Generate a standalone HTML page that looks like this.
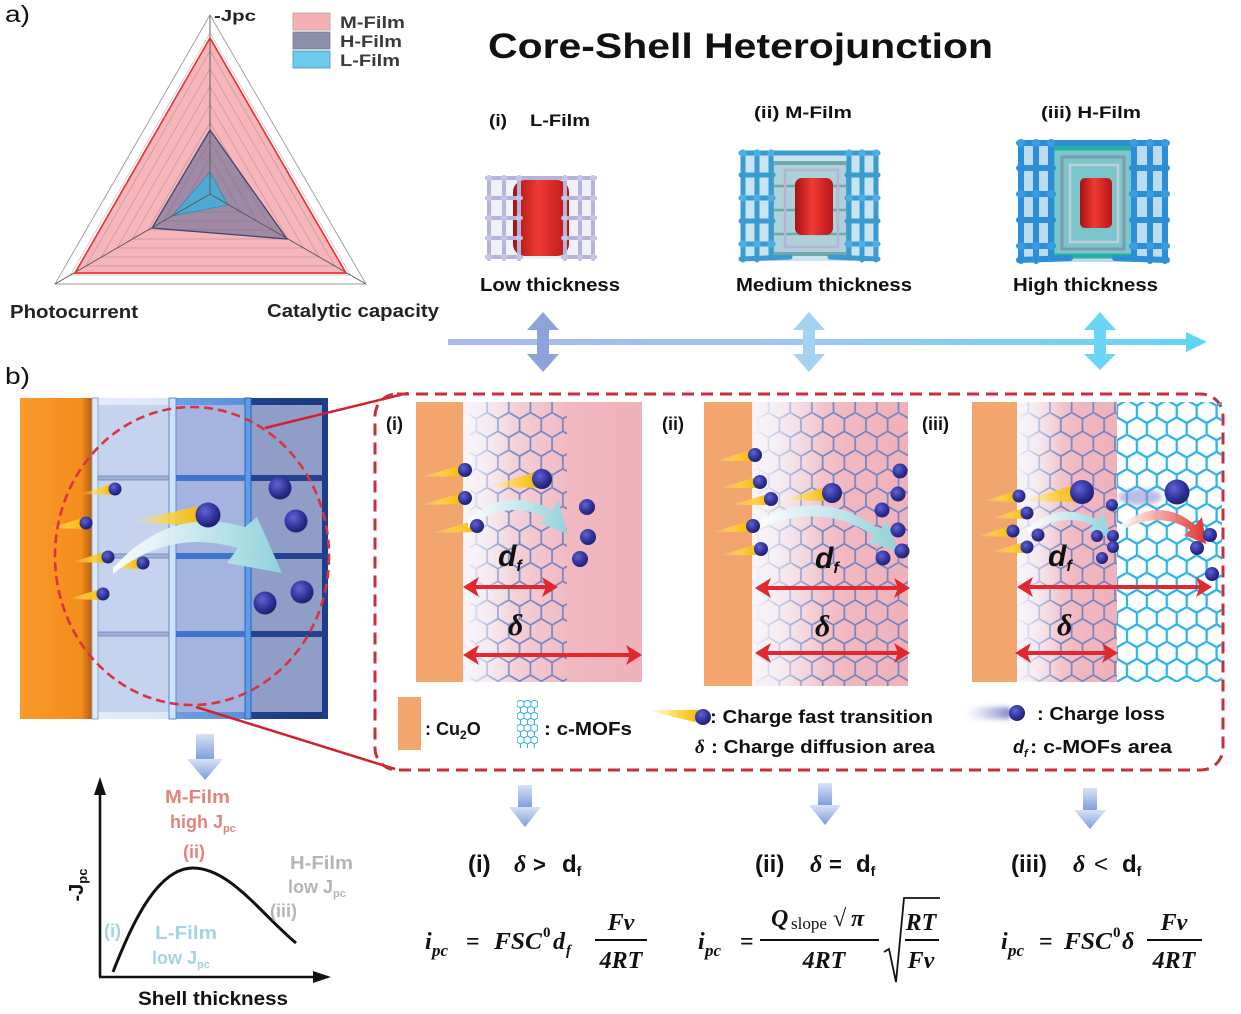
<!DOCTYPE html>
<html><head><meta charset="utf-8">
<style>
html,body{margin:0;padding:0;background:#fff;}
svg{display:block;}
.s{font-family:"Liberation Sans",sans-serif;}
.b{font-weight:bold;}
.m{font-family:"Liberation Serif",serif;font-weight:bold;font-style:italic;}
</style></head><body>
<svg width="1241" height="1014" viewBox="0 0 1241 1014" xmlns="http://www.w3.org/2000/svg">
<defs>
  <pattern id="hexB" patternUnits="userSpaceOnUse" width="21.65" height="37.5">
    <path d="M10.825,0 L21.65,6.25 L21.65,18.75 L10.825,25 L0,18.75 L0,6.25 Z M10.825,25 L10.825,37.5" fill="none" stroke="#5d7cc4" stroke-width="1.7" stroke-opacity="0.85"/>
  </pattern>
  <pattern id="hexC" patternUnits="userSpaceOnUse" width="19.92" height="34.5" x="1117" y="400">
    <path d="M9.96,0 L19.92,5.75 L19.92,17.25 L9.96,23 L0,17.25 L0,5.75 Z M9.96,23 L9.96,34.5" fill="none" stroke="#2fb3ec" stroke-width="2.3"/>
  </pattern>
  <pattern id="hexS" patternUnits="userSpaceOnUse" width="6.93" height="12" x="517" y="700">
    <path d="M3.46,0 L6.93,2 L6.93,6 L3.46,8 L0,6 L0,2 Z M3.46,8 L3.46,12" fill="none" stroke="#2aa9e6" stroke-width="1"/>
  </pattern>
  <linearGradient id="pinkG" x1="0" x2="1" y1="0" y2="0">
    <stop offset="0" stop-color="#f6f2f8"/><stop offset="0.3" stop-color="#f3cfd7"/><stop offset="0.6" stop-color="#f1b8c1"/><stop offset="1" stop-color="#efb1ba"/>
  </linearGradient>
  <linearGradient id="fogG" x1="0" x2="1" y1="0" y2="0">
    <stop offset="0" stop-color="#f7f4fa" stop-opacity="1"/><stop offset="0.45" stop-color="#f7f4fa" stop-opacity="0"/>
  </linearGradient>
  <radialGradient id="chg" cx="0.38" cy="0.35" r="0.7">
    <stop offset="0" stop-color="#6064d4"/><stop offset="0.6" stop-color="#30339a"/><stop offset="1" stop-color="#1c1d6a"/>
  </radialGradient>
  <linearGradient id="comet" x1="0" x2="1" y1="0" y2="0">
    <stop offset="0" stop-color="#ffe98a" stop-opacity="0"/><stop offset="0.5" stop-color="#ffd43a" stop-opacity="0.85"/><stop offset="1" stop-color="#f2b300"/>
  </linearGradient>
  <linearGradient id="cyanArr" x1="0" x2="1" y1="0" y2="0">
    <stop offset="0" stop-color="#ffffff" stop-opacity="0.95"/><stop offset="1" stop-color="#92d2db"/>
  </linearGradient>
  <linearGradient id="redArr" x1="0" x2="1" y1="0" y2="0">
    <stop offset="0" stop-color="#ffffff" stop-opacity="0.9"/><stop offset="1" stop-color="#e3302a"/>
  </linearGradient>
  <linearGradient id="cyl" x1="0" x2="1" y1="0" y2="0">
    <stop offset="0" stop-color="#a51212"/><stop offset="0.45" stop-color="#ef3a36"/><stop offset="1" stop-color="#b81616"/>
  </linearGradient>
  <linearGradient id="hArr" x1="0" x2="1" y1="0" y2="0">
    <stop offset="0" stop-color="#aab8ea"/><stop offset="0.5" stop-color="#9cc8ee"/><stop offset="1" stop-color="#62d4f6"/>
  </linearGradient>
  <linearGradient id="orangeG" x1="0" x2="1" y1="0" y2="0">
    <stop offset="0" stop-color="#f99a2c"/><stop offset="0.85" stop-color="#f48d1c"/><stop offset="1" stop-color="#b35e10"/>
  </linearGradient>
  <linearGradient id="barG" x1="0" x2="1" y1="0" y2="0">
    <stop offset="0" stop-color="#e4ecfa"/><stop offset="0.34" stop-color="#dbe6f8"/><stop offset="0.345" stop-color="#6e9fe6"/><stop offset="0.66" stop-color="#5a8fdc"/><stop offset="0.665" stop-color="#21418f"/><stop offset="1" stop-color="#1a377f"/>
  </linearGradient>
  <linearGradient id="downG" x1="0" x2="0" y1="0" y2="1">
    <stop offset="0" stop-color="#d7e2f6"/><stop offset="1" stop-color="#7d9cdc"/>
  </linearGradient>
  <linearGradient id="lossG" x1="0" x2="1" y1="0" y2="0">
    <stop offset="0" stop-color="#9ea3dc" stop-opacity="0"/><stop offset="1" stop-color="#6c70c4" stop-opacity="0.9"/>
  </linearGradient>
  <filter id="blur" x="-30%" y="-60%" width="160%" height="220%"><feGaussianBlur stdDeviation="2.5"/></filter>
  <clipPath id="c1"><rect x="463" y="402" width="179" height="280"/></clipPath>
  <clipPath id="c2"><rect x="752" y="402" width="156" height="284"/></clipPath>
  <clipPath id="c3"><rect x="1017" y="402" width="205" height="280"/></clipPath>
</defs>

<!-- ============ PANEL A ============ -->
<text x="5" y="22" class="s" font-size="23" fill="#111" textLength="25" lengthAdjust="spacingAndGlyphs">a)</text>

<polygon points="210,15 55,284 366,284" fill="none" stroke="#9a9a9a" stroke-width="0.9"/>
<polygon points="210,38 75,273 346,273" fill="#f4a0a5" fill-opacity="0.78"/>
<g fill="none" stroke="#8a6f78" stroke-width="0.7" stroke-opacity="0.45">
  <polygon points="210,32.9 70.5,275 350.4,275"/>
  <polygon points="210,50.8 86,266 334.8,266"/>
  <polygon points="210,68.7 101.5,257 319.2,257"/>
  <polygon points="210,86.6 117,248 303.6,248"/>
  <polygon points="210,104.5 132.5,239 288,239"/>
  <polygon points="210,122.4 148,230 272.4,230"/>
  <polygon points="210,140.3 163.5,221 256.8,221"/>
  <polygon points="210,158.2 179,212 241.2,212"/>
  <polygon points="210,176.1 194.5,203 225.6,203"/>
</g>
<polygon points="210,130 152,228 287,239" fill="#5a6596" fill-opacity="0.55" stroke="#3b4676" stroke-width="1.3"/>
<polygon points="210,172 172,216 228,205" fill="#3fb0dc" fill-opacity="0.85" stroke="#3a86ae" stroke-width="0.8"/>
<g stroke="#555" stroke-width="0.9">
  <line x1="210" y1="194" x2="210" y2="15"/>
  <line x1="210" y1="194" x2="55" y2="284"/>
  <line x1="210" y1="194" x2="366" y2="284"/>
</g>
<polygon points="210,38 75,273 346,273" fill="none" stroke="#e8363c" stroke-width="1.7"/>

<text x="214" y="21" class="s b" font-size="16" fill="#222" textLength="42" lengthAdjust="spacingAndGlyphs">-Jpc</text>
<rect x="293" y="13" width="37" height="17" fill="#f6afb2" stroke="#b0a0a0" stroke-width="0.8"/>
<rect x="293" y="32" width="37" height="17" fill="#8b8fab" stroke="#7a7a90" stroke-width="0.8"/>
<rect x="293" y="51" width="37" height="17" fill="#6ccbea" stroke="#4a90b0" stroke-width="0.8"/>
<text x="340" y="28" class="s b" font-size="17" fill="#3a3a3a" textLength="65" lengthAdjust="spacingAndGlyphs">M-Film</text>
<text x="340" y="47" class="s b" font-size="17" fill="#3a3a3a" textLength="62" lengthAdjust="spacingAndGlyphs">H-Film</text>
<text x="340" y="66" class="s b" font-size="17" fill="#3a3a3a" textLength="60" lengthAdjust="spacingAndGlyphs">L-Film</text>
<text x="10" y="318" class="s b" font-size="18" fill="#222" textLength="128" lengthAdjust="spacingAndGlyphs">Photocurrent</text>
<text x="267" y="317" class="s b" font-size="18" fill="#222" textLength="172" lengthAdjust="spacingAndGlyphs">Catalytic capacity</text>

<!-- ============ TOP RIGHT ============ -->
<text x="488" y="58" class="s b" font-size="35" fill="#111" textLength="505" lengthAdjust="spacingAndGlyphs">Core-Shell Heterojunction</text>

<text x="489" y="126" class="s b" font-size="17" fill="#111" textLength="18" lengthAdjust="spacingAndGlyphs">(i)</text>
<text x="530" y="126" class="s b" font-size="17" fill="#111" textLength="60" lengthAdjust="spacingAndGlyphs">L-Film</text>
<text x="754" y="118" class="s b" font-size="17" fill="#111" textLength="98" lengthAdjust="spacingAndGlyphs">(ii) M-Film</text>
<text x="1041" y="118" class="s b" font-size="17" fill="#111" textLength="100" lengthAdjust="spacingAndGlyphs">(iii) H-Film</text>

<!-- cube i -->
<g>
  <rect x="487" y="176" width="106" height="83" fill="#b3b5dc" fill-opacity="0.2"/>
  <rect x="513" y="180" width="56" height="76" rx="12" fill="url(#cyl)"/>
  <g stroke="#b2b4dc" stroke-width="4" stroke-linecap="round">
    <line x1="489" y1="177" x2="489" y2="259"/><line x1="504" y1="177" x2="504" y2="259"/><line x1="519" y1="177" x2="519" y2="259"/>
    <line x1="565" y1="177" x2="565" y2="259"/><line x1="580" y1="177" x2="580" y2="259"/><line x1="593" y1="177" x2="593" y2="259"/>
    <line x1="487" y1="178" x2="595" y2="178"/>
    <line x1="487" y1="198" x2="521" y2="198"/><line x1="563" y1="198" x2="595" y2="198"/>
    <line x1="487" y1="218" x2="521" y2="218"/><line x1="563" y1="218" x2="595" y2="218"/>
    <line x1="487" y1="238" x2="521" y2="238"/><line x1="563" y1="238" x2="595" y2="238"/>
    <line x1="487" y1="257" x2="521" y2="257"/><line x1="563" y1="257" x2="595" y2="257"/>
  </g>
  <g fill="#c4c5e8">
    <circle cx="489" cy="178" r="3"/><circle cx="504" cy="178" r="3"/><circle cx="519" cy="178" r="3"/><circle cx="565" cy="178" r="3"/><circle cx="580" cy="178" r="3"/><circle cx="593" cy="178" r="3"/>
    <circle cx="489" cy="198" r="3"/><circle cx="504" cy="198" r="3"/><circle cx="519" cy="198" r="3"/><circle cx="565" cy="198" r="3"/><circle cx="580" cy="198" r="3"/><circle cx="593" cy="198" r="3"/>
    <circle cx="489" cy="218" r="3"/><circle cx="504" cy="218" r="3"/><circle cx="519" cy="218" r="3"/><circle cx="565" cy="218" r="3"/><circle cx="580" cy="218" r="3"/><circle cx="593" cy="218" r="3"/>
    <circle cx="489" cy="238" r="3"/><circle cx="504" cy="238" r="3"/><circle cx="519" cy="238" r="3"/><circle cx="565" cy="238" r="3"/><circle cx="580" cy="238" r="3"/><circle cx="593" cy="238" r="3"/>
    <circle cx="489" cy="257" r="3"/><circle cx="504" cy="257" r="3"/><circle cx="519" cy="257" r="3"/><circle cx="565" cy="257" r="3"/><circle cx="580" cy="257" r="3"/><circle cx="593" cy="257" r="3"/>
  </g>
</g>
<!-- cube ii -->
<g>
  <rect x="741" y="151" width="136" height="110" fill="#3b9fd2" fill-opacity="0.28"/>
  <rect x="772" y="163" width="76" height="91" fill="#8fb9bb" fill-opacity="0.45" stroke="#6fa8aa" stroke-width="4"/>
  <g stroke="#6fa8aa" stroke-width="2.5"><line x1="772" y1="186" x2="848" y2="186"/><line x1="772" y1="210" x2="848" y2="210"/><line x1="772" y1="234" x2="848" y2="234"/></g>
  <rect x="785" y="170" width="53" height="77" fill="none" stroke="#b3b3d6" stroke-width="2.5"/>
  <rect x="795" y="178" width="38" height="57" rx="7" fill="url(#cyl)"/>
  <g stroke="#3a9bd0" stroke-width="5" stroke-linecap="round">
    <line x1="743" y1="152" x2="743" y2="260"/><line x1="757" y1="152" x2="757" y2="260"/><line x1="771" y1="152" x2="771" y2="258"/>
    <line x1="849" y1="152" x2="849" y2="258"/><line x1="862" y1="152" x2="862" y2="260"/><line x1="876" y1="152" x2="876" y2="260"/>
    <line x1="741" y1="153" x2="878" y2="153"/>
    <line x1="741" y1="175" x2="773" y2="175"/><line x1="847" y1="175" x2="878" y2="175"/>
    <line x1="741" y1="198" x2="773" y2="198"/><line x1="847" y1="198" x2="878" y2="198"/>
    <line x1="741" y1="221" x2="773" y2="221"/><line x1="847" y1="221" x2="878" y2="221"/>
    <line x1="741" y1="244" x2="773" y2="244"/><line x1="847" y1="244" x2="878" y2="244"/>
    <line x1="741" y1="259" x2="790" y2="257"/><line x1="830" y1="257" x2="878" y2="259"/>
  </g>
  <g fill="#4db0e2">
    <circle cx="743" cy="153" r="3.6"/><circle cx="757" cy="153" r="3.6"/><circle cx="771" cy="153" r="3.6"/><circle cx="849" cy="153" r="3.6"/><circle cx="862" cy="153" r="3.6"/><circle cx="876" cy="153" r="3.6"/>
    <circle cx="743" cy="198" r="3.6"/><circle cx="757" cy="198" r="3.6"/><circle cx="771" cy="198" r="3.6"/><circle cx="849" cy="198" r="3.6"/><circle cx="862" cy="198" r="3.6"/><circle cx="876" cy="198" r="3.6"/>
    <circle cx="743" cy="244" r="3.6"/><circle cx="757" cy="244" r="3.6"/><circle cx="771" cy="244" r="3.6"/><circle cx="849" cy="244" r="3.6"/><circle cx="862" cy="244" r="3.6"/><circle cx="876" cy="244" r="3.6"/>
  </g>
</g>
<!-- cube iii -->
<g>
  <rect x="1018" y="141" width="149" height="121" fill="#2d8fd8" fill-opacity="0.32"/>
  <rect x="1052" y="148" width="82" height="108" fill="#2ab0a0" fill-opacity="0.45" stroke="#27b0a0" stroke-width="5"/>
  <rect x="1062" y="157" width="62" height="92" fill="none" stroke="#7f9aa8" stroke-width="3"/>
  <rect x="1070" y="165" width="48" height="77" fill="none" stroke="#c9ccd9" stroke-width="2.5"/>
  <rect x="1080" y="178" width="32" height="50" rx="5" fill="url(#cyl)"/>
  <g stroke="#2b8ed6" stroke-width="6" stroke-linecap="round">
    <line x1="1021" y1="142" x2="1021" y2="261"/><line x1="1036" y1="142" x2="1036" y2="261"/><line x1="1051" y1="142" x2="1051" y2="259"/>
    <line x1="1134" y1="142" x2="1134" y2="259"/><line x1="1150" y1="142" x2="1150" y2="261"/><line x1="1165" y1="142" x2="1165" y2="261"/>
    <line x1="1019" y1="143" x2="1167" y2="143"/>
    <line x1="1019" y1="168" x2="1053" y2="168"/><line x1="1132" y1="168" x2="1167" y2="168"/>
    <line x1="1019" y1="194" x2="1053" y2="194"/><line x1="1132" y1="194" x2="1167" y2="194"/>
    <line x1="1019" y1="220" x2="1053" y2="220"/><line x1="1132" y1="220" x2="1167" y2="220"/>
    <line x1="1019" y1="246" x2="1053" y2="246"/><line x1="1132" y1="246" x2="1167" y2="246"/>
    <line x1="1019" y1="260" x2="1070" y2="258"/><line x1="1115" y1="258" x2="1167" y2="260"/>
  </g>
  <g fill="#3a9de2">
    <circle cx="1021" cy="143" r="4"/><circle cx="1036" cy="143" r="4"/><circle cx="1051" cy="143" r="4"/><circle cx="1134" cy="143" r="4"/><circle cx="1150" cy="143" r="4"/><circle cx="1165" cy="143" r="4"/>
    <circle cx="1021" cy="194" r="4"/><circle cx="1036" cy="194" r="4"/><circle cx="1051" cy="194" r="4"/><circle cx="1134" cy="194" r="4"/><circle cx="1150" cy="194" r="4"/><circle cx="1165" cy="194" r="4"/>
    <circle cx="1021" cy="246" r="4"/><circle cx="1036" cy="246" r="4"/><circle cx="1051" cy="246" r="4"/><circle cx="1134" cy="246" r="4"/><circle cx="1150" cy="246" r="4"/><circle cx="1165" cy="246" r="4"/>
  </g>
</g>

<text x="480" y="291" class="s b" font-size="18" fill="#111" textLength="140" lengthAdjust="spacingAndGlyphs">Low thickness</text>
<text x="736" y="291" class="s b" font-size="18" fill="#111" textLength="176" lengthAdjust="spacingAndGlyphs">Medium thickness</text>
<text x="1013" y="291" class="s b" font-size="18" fill="#111" textLength="145" lengthAdjust="spacingAndGlyphs">High thickness</text>

<rect x="448" y="339" width="742" height="6" fill="url(#hArr)"/>
<polygon points="1186,332 1207,342 1186,352" fill="#5fd5f6"/>
<polygon points="543,312 559,330 549,330 549,354 559,354 543,372 527,354 537,354 537,330 527,330" fill="#8ea3dc"/>
<polygon points="809,312 825,330 815,330 815,354 825,354 809,372 793,354 803,354 803,330 793,330" fill="#a3d3f0"/>
<polygon points="1100,312 1116,330 1106,330 1106,354 1116,354 1100,370 1084,354 1094,354 1094,330 1084,330" fill="#6ad6f6"/>

<!-- ============ PANEL B ============ -->
<text x="5" y="384" class="s" font-size="23" fill="#111" textLength="25" lengthAdjust="spacingAndGlyphs">b)</text>

<!-- left schematic -->
<rect x="20" y="398" width="72" height="321" fill="url(#orangeG)"/>
<rect x="92" y="400" width="80" height="318" fill="#c6d3ef"/>
<rect x="172" y="400" width="76" height="318" fill="#a4b4df"/>
<rect x="248" y="400" width="80" height="318" fill="#909dc7"/>
<rect x="92" y="398" width="236" height="7" fill="url(#barG)"/>
<rect x="92" y="712" width="236" height="7" fill="url(#barG)"/>
<rect x="92" y="398" width="6" height="321" fill="#dfe8f8" stroke="#8fa8d2" stroke-width="1"/>
<rect x="169" y="398" width="7" height="321" fill="#cfe0fa" stroke="#5a8ad6" stroke-width="1"/>
<rect x="245" y="398" width="6" height="321" fill="#5f9de8" stroke="#2c5fba" stroke-width="1"/>
<rect x="322" y="398" width="6" height="321" fill="#1f3d8c"/>
<g>
  <rect x="98" y="476" width="71" height="4" fill="#9fb2d8" stroke="#6e82ad" stroke-width="0.8"/>
  <rect x="98" y="554" width="71" height="4" fill="#9fb2d8" stroke="#6e82ad" stroke-width="0.8"/>
  <rect x="98" y="632" width="71" height="4" fill="#9fb2d8" stroke="#6e82ad" stroke-width="0.8"/>
  <rect x="176" y="475" width="69" height="6" fill="#3f73cc"/>
  <rect x="176" y="553" width="69" height="6" fill="#3f73cc"/>
  <rect x="176" y="631" width="69" height="6" fill="#3f73cc"/>
  <rect x="251" y="475" width="71" height="6" fill="#22418f"/>
  <rect x="251" y="553" width="71" height="6" fill="#22418f"/>
  <rect x="251" y="631" width="71" height="6" fill="#22418f"/>
</g>
<!-- comets + charges left -->
<g fill="url(#comet)">
  <polygon points="80,494 115,483 115,495"/>
  <polygon points="50,528 86,517 86,529"/>
  <polygon points="72,562 108,551 108,563"/>
  <polygon points="108,568 143,557 143,569"/>
  <polygon points="68,599 103,588 103,600"/>
  <polygon points="128,522 208,504 208,526"/>
</g>
<g fill="url(#chg)">
  <circle cx="115" cy="489" r="6.5"/><circle cx="86" cy="523" r="6.5"/><circle cx="108" cy="557" r="6.5"/>
  <circle cx="143" cy="563" r="6.5"/><circle cx="103" cy="594" r="6.5"/>
</g>
<path d="M113,568 Q170,505 245,527 L257,517 L282,573 L227,563 L238,548 Q170,528 113,574 Z" fill="url(#cyanArr)"/>
<g fill="url(#chg)">
  <circle cx="208" cy="515" r="12.5"/>
  <circle cx="280" cy="488" r="11.5"/><circle cx="296" cy="521" r="11.5"/>
  <circle cx="265" cy="603" r="11.5"/><circle cx="302" cy="592" r="11.5"/>
</g>
<ellipse cx="192" cy="556" rx="137" ry="149" fill="none" stroke="#d9333f" stroke-width="2.6" stroke-dasharray="9 5"/>
<line x1="265" y1="428" x2="408" y2="393" stroke="#d4202a" stroke-width="2.5"/>
<line x1="196" y1="707" x2="395" y2="769" stroke="#d4202a" stroke-width="2.5"/>

<!-- dashed box -->
<rect x="375" y="394" width="848" height="376" rx="22" fill="none" stroke="#c62f3c" stroke-width="3" stroke-dasharray="12 7"/>

<!-- panel i -->
<text x="386" y="430" class="s b" font-size="18" fill="#111">(i)</text>
<rect x="416" y="402" width="47" height="280" fill="#f2a66e"/>
<rect x="463" y="402" width="179" height="280" fill="url(#pinkG)"/>
<g clip-path="url(#c1)">
  <rect x="470" y="402" width="97" height="280" fill="url(#hexB)"/>
  <rect x="463" y="402" width="110" height="280" fill="url(#fogG)"/>
</g>
<!-- panel ii -->
<text x="662" y="430" class="s b" font-size="18" fill="#111">(ii)</text>
<rect x="704" y="402" width="48" height="284" fill="#f2a66e"/>
<rect x="752" y="402" width="156" height="284" fill="url(#pinkG)"/>
<g clip-path="url(#c2)">
  <rect x="752" y="402" width="156" height="284" fill="url(#hexB)"/>
  <rect x="752" y="402" width="156" height="284" fill="url(#fogG)"/>
</g>
<!-- panel iii -->
<text x="922" y="430" class="s b" font-size="18" fill="#111">(iii)</text>
<rect x="972" y="402" width="45" height="280" fill="#f2a66e"/>
<rect x="1017" y="402" width="100" height="280" fill="url(#pinkG)"/>
<g clip-path="url(#c3)">
  <rect x="1017" y="402" width="100" height="280" fill="url(#hexB)"/>
  <rect x="1017" y="402" width="100" height="280" fill="url(#fogG)"/>
  <rect x="1117" y="402" width="105" height="280" fill="url(#hexC)"/>
</g>

<!-- comets panels -->
<g fill="url(#comet)">
  <polygon points="420,477 465,464 465,476"/>
  <polygon points="420,505 465,492 465,504"/>
  <polygon points="432,533 477,520 477,532"/>
  <polygon points="487,487 542,470 542,488"/>
  <polygon points="715,461 755,449 755,461"/>
  <polygon points="720,488 760,476 760,488"/>
  <polygon points="731,505 771,493 771,505"/>
  <polygon points="713,532 753,520 753,532"/>
  <polygon points="721,555 761,543 761,555"/>
  <polygon points="782,500 832,485 832,501"/>
  <polygon points="984,501 1019,490 1019,502"/>
  <polygon points="992,518 1027,507 1027,519"/>
  <polygon points="978,536 1013,525 1013,537"/>
  <polygon points="992,552 1027,541 1027,553"/>
  <polygon points="1022,501 1082,482 1082,502"/>
</g>
<!-- curved arrows panels -->
<path d="M468,520 Q505,485 552,510 L558,500 L568,534 L540,523 L546,518 Q505,498 468,528 Z" fill="url(#cyanArr)"/>
<path d="M757,522 Q820,485 880,530 L887,521 L898,551 L867,542 L874,536 Q820,500 757,530 Z" fill="url(#cyanArr)"/>
<path d="M1028,528 Q1060,500 1098,520 L1103,512 L1111,538 L1088,530 L1093,525 Q1060,512 1028,534 Z" fill="url(#cyanArr)"/>
<path d="M1120,525 Q1160,495 1195,525 L1202,517 L1206,544 L1184,535 L1190,530 Q1160,510 1120,531 Z" fill="url(#redArr)"/>
<ellipse cx="1140" cy="497" rx="22" ry="8" fill="#8c91d4" fill-opacity="0.6" filter="url(#blur)"/>
<!-- charges panels -->
<g fill="url(#chg)">
  <circle cx="465" cy="470" r="7"/><circle cx="465" cy="498" r="7"/><circle cx="477" cy="526" r="7"/>
  <circle cx="542" cy="479" r="10"/>
  <circle cx="587" cy="507" r="8"/><circle cx="588" cy="537" r="8"/><circle cx="580" cy="559" r="8"/>
  <circle cx="755" cy="455" r="7"/><circle cx="760" cy="482" r="7"/><circle cx="771" cy="499" r="7"/>
  <circle cx="753" cy="526" r="7"/><circle cx="761" cy="549" r="7"/>
  <circle cx="832" cy="493" r="10"/>
  <circle cx="900" cy="471" r="7.5"/><circle cx="898" cy="494" r="7.5"/><circle cx="882" cy="510" r="7.5"/>
  <circle cx="898" cy="530" r="7.5"/><circle cx="902" cy="551" r="7.5"/><circle cx="883" cy="558" r="7.5"/>
  <circle cx="1019" cy="496" r="6.5"/><circle cx="1027" cy="513" r="6.5"/><circle cx="1013" cy="531" r="6.5"/>
  <circle cx="1038" cy="535" r="6.5"/><circle cx="1027" cy="547" r="6.5"/>
  <circle cx="1082" cy="492" r="12"/>
  <circle cx="1112" cy="505" r="6"/><circle cx="1097" cy="536" r="6"/><circle cx="1113" cy="536" r="6"/>
  <circle cx="1113" cy="547" r="6"/><circle cx="1102" cy="558" r="6"/>
  <circle cx="1177" cy="492" r="12.5"/>
  <circle cx="1210" cy="535" r="7"/><circle cx="1197" cy="548" r="7"/><circle cx="1212" cy="574" r="7"/>
</g>

<!-- red double arrows -->
<g fill="#e0282e">
  <rect x="473" y="585" width="75" height="4"/>
  <polygon points="463,587 479,577 475,587 479,597"/><polygon points="558,587 542,577 546,587 542,597"/>
  <rect x="473" y="653" width="159" height="4"/>
  <polygon points="463,655 479,645 475,655 479,665"/><polygon points="642,655 626,645 630,655 626,665"/>
  <rect x="765" y="586" width="135" height="4"/>
  <polygon points="755,588 771,578 767,588 771,598"/><polygon points="910,588 894,578 898,588 894,598"/>
  <rect x="765" y="651" width="135" height="4"/>
  <polygon points="755,653 771,643 767,653 771,663"/><polygon points="910,653 894,643 898,653 894,663"/>
  <rect x="1027" y="585" width="175" height="4"/>
  <polygon points="1017,587 1033,577 1029,587 1033,597"/><polygon points="1212,587 1196,577 1200,587 1196,597"/>
  <rect x="1025" y="651" width="83" height="4"/>
  <polygon points="1015,653 1031,643 1027,653 1031,663"/><polygon points="1118,653 1102,643 1106,653 1102,663"/>
</g>
<!-- d_f and delta labels -->
<text x="498" y="566" class="s b" font-style="italic" font-size="30" fill="#111">d<tspan font-size="16" dy="5">f</tspan></text>
<text x="508" y="635" class="m" font-size="30" fill="#111">δ</text>
<text x="815" y="568" class="s b" font-style="italic" font-size="30" fill="#111">d<tspan font-size="16" dy="5">f</tspan></text>
<text x="815" y="636" class="m" font-size="30" fill="#111">δ</text>
<text x="1048" y="566" class="s b" font-style="italic" font-size="30" fill="#111">d<tspan font-size="16" dy="5">f</tspan></text>
<text x="1057" y="635" class="m" font-size="30" fill="#111">δ</text>

<!-- legend row -->
<rect x="398" y="697" width="23" height="53" fill="#f2a66e"/>
<text x="425" y="735" class="s b" font-size="18" fill="#111">: Cu<tspan font-size="12" dy="4">2</tspan><tspan dy="-4">O</tspan></text>
<rect x="517" y="700" width="21" height="48" fill="url(#hexS)"/>
<text x="544" y="735" class="s b" font-size="18" fill="#111" textLength="88" lengthAdjust="spacingAndGlyphs">: c-MOFs</text>
<polygon points="645,710 703,710 703,724" fill="url(#comet)"/>
<circle cx="703" cy="717" r="8" fill="url(#chg)"/>
<text x="710" y="723" class="s b" font-size="18" fill="#111" textLength="223" lengthAdjust="spacingAndGlyphs">: Charge fast transition</text>
<text x="695" y="753" class="m" font-size="19" fill="#111">δ</text>
<text x="711" y="753" class="s b" font-size="18" fill="#111" textLength="224" lengthAdjust="spacingAndGlyphs">: Charge diffusion area</text>
<rect x="966" y="707" width="46" height="12" rx="6" fill="url(#lossG)" filter="url(#blur)"/>
<circle cx="1017" cy="713" r="8" fill="url(#chg)"/>
<text x="1037" y="720" class="s b" font-size="18" fill="#111" textLength="128" lengthAdjust="spacingAndGlyphs">: Charge loss</text>
<text x="1013" y="753" class="s b" font-style="italic" font-size="18" fill="#111">d<tspan font-size="11" dy="4">f</tspan></text>
<text x="1030" y="753" class="s b" font-size="18" fill="#111" textLength="142" lengthAdjust="spacingAndGlyphs">: c-MOFs area</text>

<!-- down arrows -->
<g fill="url(#downG)">
  <rect x="196" y="734" width="18" height="26"/><polygon points="187,759 223,759 205,780"/>
  <rect x="518" y="785" width="14" height="23"/><polygon points="509,807 541,807 525,827"/>
  <rect x="818" y="783" width="14" height="23"/><polygon points="809,805 841,805 825,825"/>
  <rect x="1083" y="788" width="14" height="23"/><polygon points="1074,810 1106,810 1090,829"/>
</g>

<!-- bottom-left graph -->
<g stroke="#111" stroke-width="2.6" fill="none">
  <line x1="100" y1="790" x2="100" y2="977"/>
  <line x1="99" y1="977" x2="316" y2="977"/>
</g>
<polygon points="94,795 100,777 106,795" fill="#111"/>
<polygon points="313,971 331,977 313,983" fill="#111"/>
<path d="M113,972 C135,915 160,868 193,868 C230,868 262,915 296,943" fill="none" stroke="#111" stroke-width="3"/>
<text x="165" y="803" class="s b" font-size="18" fill="#e0847c" textLength="65" lengthAdjust="spacingAndGlyphs">M-Film</text>
<text x="170" y="828" class="s b" font-size="18" fill="#e0847c">high J<tspan font-size="11" dy="4">pc</tspan></text>
<text x="183" y="858" class="s b" font-size="18" fill="#e0847c">(ii)</text>
<text x="290" y="869" class="s b" font-size="18" fill="#b4b4b4" textLength="63" lengthAdjust="spacingAndGlyphs">H-Film</text>
<text x="288" y="893" class="s b" font-size="18" fill="#b4b4b4">low J<tspan font-size="11" dy="4">pc</tspan></text>
<text x="270" y="917" class="s b" font-size="18" fill="#b4b4b4">(iii)</text>
<text x="104" y="937" class="s b" font-size="18" fill="#a5d3de">(i)</text>
<text x="155" y="939" class="s b" font-size="18" fill="#a5d3de" textLength="62" lengthAdjust="spacingAndGlyphs">L-Film</text>
<text x="152" y="964" class="s b" font-size="18" fill="#a5d3de">low J<tspan font-size="11" dy="4">pc</tspan></text>
<text transform="translate(83,885) rotate(-90)" text-anchor="middle" class="s b" font-size="20" fill="#111">-J<tspan font-size="13" dy="4">pc</tspan></text>
<text x="138" y="1005" class="s b" font-size="19" fill="#111" textLength="150" lengthAdjust="spacingAndGlyphs">Shell thickness</text>

<!-- conditions -->
<g class="s b" font-size="24" fill="#111">
  <text x="468" y="872">(i)</text>
  <text x="514" y="872" class="m" font-size="24">δ</text>
  <text x="533" y="872" font-size="22">&gt;</text>
  <text x="562" y="872">d<tspan font-size="14" dy="4">f</tspan></text>

  <text x="755" y="872">(ii)</text>
  <text x="810" y="872" class="m" font-size="24">δ</text>
  <text x="829" y="872" font-size="22">=</text>
  <text x="856" y="872">d<tspan font-size="14" dy="4">f</tspan></text>

  <text x="1011" y="872">(iii)</text>
  <text x="1073" y="872" class="m" font-size="24">δ</text>
  <text x="1094" y="872" font-weight="normal" font-size="24">&lt;</text>
  <text x="1122" y="872">d<tspan font-size="14" dy="4">f</tspan></text>
</g>

<!-- formulas -->
<g class="m" fill="#111" font-size="24">
  <!-- (i) -->
  <text x="425" y="949">i</text>
  <text x="432" y="956" font-size="17">pc</text>
  <text x="466" y="949" font-style="normal">=</text>
  <text x="494" y="949" textLength="48" lengthAdjust="spacingAndGlyphs">FSC</text>
  <text x="543" y="937" font-size="15" font-style="normal">0</text>
  <text x="553" y="949">d</text>
  <text x="566" y="955" font-size="15">f</text>
  <rect x="595" y="939" width="52" height="2" fill="#111"/>
  <text x="621" y="930" text-anchor="middle">Fv</text>
  <text x="621" y="968" text-anchor="middle">4RT</text>

  <!-- (ii) -->
  <text x="698" y="949">i</text>
  <text x="705" y="956" font-size="17">pc</text>
  <text x="740" y="949" font-style="normal">=</text>
  <rect x="760" y="939" width="119" height="2" fill="#111"/>
  <text x="771" y="926">Q</text>
  <text x="791" y="929" font-size="17" font-weight="normal" font-style="normal">slope</text>
  <text x="833" y="926" font-style="normal" font-weight="normal">√</text>
  <text x="851" y="926">π</text>
  <text x="824" y="968" text-anchor="middle">4RT</text>
  <path d="M884,952 L889,949 L896,982 L904,898 L940,898" fill="none" stroke="#111" stroke-width="1.8"/>
  <rect x="905" y="939" width="34" height="2" fill="#111"/>
  <text x="921" y="930" text-anchor="middle">RT</text>
  <text x="921" y="968" text-anchor="middle">Fv</text>

  <!-- (iii) -->
  <text x="1001" y="949">i</text>
  <text x="1008" y="956" font-size="17">pc</text>
  <text x="1039" y="949" font-style="normal">=</text>
  <text x="1064" y="949" textLength="48" lengthAdjust="spacingAndGlyphs">FSC</text>
  <text x="1113" y="937" font-size="15" font-style="normal">0</text>
  <text x="1122" y="949">δ</text>
  <rect x="1147" y="939" width="55" height="2" fill="#111"/>
  <text x="1174" y="930" text-anchor="middle">Fv</text>
  <text x="1174" y="968" text-anchor="middle">4RT</text>
</g>
</svg>
</body></html>
